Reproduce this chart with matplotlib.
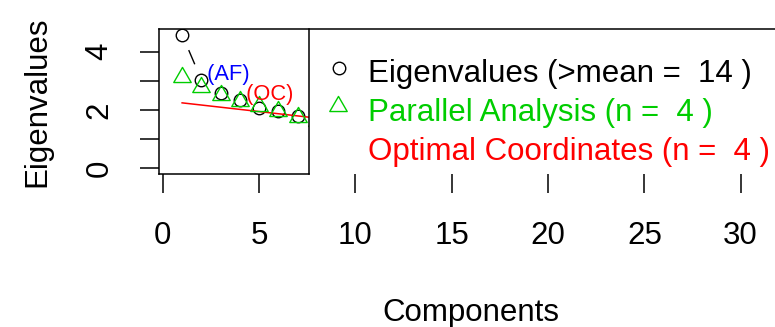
import matplotlib
matplotlib.use("Agg")
import matplotlib.pyplot as plt
import numpy as np
from matplotlib.path import Path
from matplotlib.patches import Rectangle
from matplotlib.transforms import IdentityTransform

plt.rcParams['font.family'] = ['Liberation Sans', 'DejaVu Sans']

# ---------------- data ----------------
components = list(range(1, 32))
eigenvalues = [4.59, 3.04, 2.58, 2.33, 2.08, 1.98, 1.79, 1.68, 1.56, 1.45, 1.34,
               1.22, 1.12, 1.03, 0.95, 0.88, 0.81, 0.75, 0.69, 0.63, 0.58, 0.53,
               0.48, 0.44, 0.40, 0.36, 0.32, 0.27, 0.23, 0.18, 0.12]
parallel = [3.15, 2.80, 2.53, 2.31, 2.13, 1.95, 1.75, 1.62, 1.52, 1.43, 1.35,
            1.27, 1.20, 1.13, 1.07, 1.01, 0.95, 0.90, 0.85, 0.80, 0.75, 0.70,
            0.66, 0.62, 0.58, 0.54, 0.50, 0.46, 0.42, 0.38, 0.33]
oc_x = [1, 31]
oc_y = [2.245, 0.0]
n_kaiser = 14
n_pa = 4
n_oc = 4
n_af = 1
x_ticks = [0, 5, 10, 15, 20, 25, 30]
y_ticks = [0, 1, 2, 3, 4]
y_tick_labels = ["0", "", "2", "", "4"]
legend_labels = ["Eigenvalues (>mean =  %d )" % n_kaiser,
                 "Parallel Analysis (n =  %d )" % n_pa,
                 "Optimal Coordinates (n =  %d )" % n_oc]
legend_colors = ["black", "#00CD00", "red"]

# ---------------- figure ----------------
W, H = 775, 327
fig = plt.figure(figsize=(W / 100, H / 100), dpi=100)
ax_l, ax_r, ax_t, ax_b = 159, 783, 29.3, 173.5
ax = fig.add_axes([ax_l / W, (H - ax_b) / H, (ax_r - ax_l) / W, (ax_b - ax_t) / H])

nk = len(components)
M = max(eigenvalues)
xlim = (1 - 0.04 * (nk - 1), nk + 0.04 * (nk - 1))
ylim = (-0.04 * M, 1.04 * M)
ax.set_xlim(*xlim)
ax.set_ylim(*ylim)

FS = 22.5
LW = 1.1
tri_path = Path([(0, 1), (np.sqrt(3) / 2, -0.5), (-np.sqrt(3) / 2, -0.5), (0, 1)],
                [Path.MOVETO, Path.LINETO, Path.LINETO, Path.CLOSEPOLY])


def draw_type_b(x, y, color, marker, ms, gap_px, z):
    ax.plot(x, y, linestyle='none', marker=marker, ms=ms, mfc='none', mec=color,
            mew=1.0, zorder=z)
    pts = ax.transData.transform(np.column_stack([x, y]))
    inv = ax.transData.inverted()
    for (x0, y0), (x1, y1) in zip(pts[:-1], pts[1:]):
        d = np.hypot(x1 - x0, y1 - y0)
        if d > 2 * gap_px:
            f = gap_px / d
            a = (x0 + f * (x1 - x0), y0 + f * (y1 - y0))
            b = (x1 - f * (x1 - x0), y1 - f * (y1 - y0))
            seg = inv.transform([a, b])
            ax.plot(seg[:, 0], seg[:, 1], color=color, lw=1.0, zorder=z)


draw_type_b(components, eigenvalues, 'black', 'o', 9, 17.5, 2)
ax.plot(oc_x, oc_y, color='red', lw=1.1, zorder=2.5)
draw_type_b(components, parallel, '#00CD00', tri_path, 14.5, 17.5, 3)

# legend box (white, covers right part of plot region)
leg_left = 7.6
ax.add_patch(Rectangle((leg_left, ylim[0]), xlim[1] - leg_left, ylim[1] - ylim[0],
                       facecolor='white', edgecolor='none', zorder=4))
ax.plot([leg_left, leg_left], [ylim[0], ylim[1]], color='black', lw=LW, zorder=5,
        clip_on=False, solid_capstyle='projecting')
ax.plot([xlim[0], leg_left], [ylim[0], ylim[0]], color='black', lw=LW, zorder=5,
        clip_on=False, solid_capstyle='projecting')

for s in ['right', 'bottom']:
    ax.spines[s].set_visible(False)
for s in ['left', 'top']:
    ax.spines[s].set_linewidth(LW)
    ax.spines[s].set_zorder(6)

# legend entries
idt = IdentityTransform()
leg_markers = ['o', tri_path]
leg_ms = [9, 14.5]
mark_pos = [(339, 68), (338, 106)]
text_x = 368
baselines = [82, 121.5, 160]
for i, lab in enumerate(legend_labels):
    if i < 2:
        mx, my = mark_pos[i]
        ax.plot([mx], [H - my], transform=idt, marker=leg_markers[i], ms=leg_ms[i],
                mfc='none', mec=legend_colors[i], mew=1.0, linestyle='none',
                clip_on=False, zorder=7)
    ax.text(text_x, H - baselines[i], lab, transform=idt, color=legend_colors[i],
            fontsize=FS, ha='left', va='baseline', zorder=7)

# annotations
ax.text(n_af + 1, eigenvalues[n_af], " (AF)", color='blue', fontsize=FS * 0.7,
        ha='left', va='baseline', zorder=7)
ax.text(n_oc, eigenvalues[n_oc - 1], " (OC)", color='red', fontsize=FS * 0.7,
        ha='left', va='baseline', zorder=7)

# axes
ax.set_xticks(x_ticks)
ax.set_xticklabels([str(t) for t in x_ticks])
ax.set_yticks(y_ticks)
ax.set_yticklabels(y_tick_labels)
ax.tick_params(axis='both', direction='out', length=13.7, width=LW, labelsize=FS,
               colors='black')
ax.tick_params(axis='x', pad=20.5)
ax.tick_params(axis='y', pad=18.4)
for t in ax.get_yticklabels():
    t.set_rotation(90)
    t.set_va('center')
    t.set_ha('right')

ax.set_xlabel("Components", fontsize=FS)
ax.set_ylabel("Eigenvalues", fontsize=FS)
ax.xaxis.set_label_coords(0.5, -0.8634)
ax.yaxis.set_label_coords(-0.1715, 0.5)

fig.savefig("out.png", dpi=100)
